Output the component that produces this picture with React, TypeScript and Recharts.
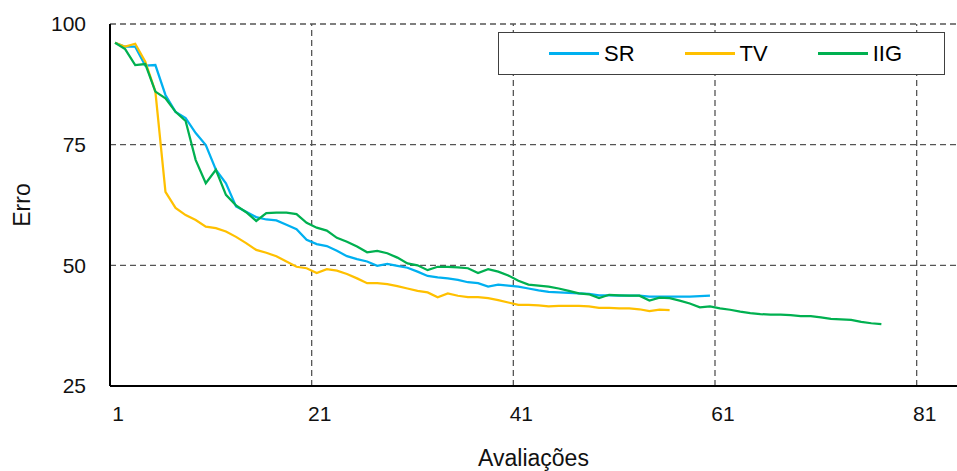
import React from "react";
import { CartesianGrid, Label, Legend, Line, LineChart, ReferenceLine, XAxis, YAxis } from "recharts";

// Erro por número de avaliações (uma categoria por avaliação)
const SR = [
  96.1, 95.3, 95.3, 91.4, 91.5, 85.3, 81.8, 80.5, 77.4, 74.9,
  69.8, 67.0, 62.2, 61.1, 60.0, 59.5, 59.3, 58.4, 57.5, 55.3,
  54.4, 54.0, 53.0, 51.9, 51.3, 50.8, 49.9, 50.3, 49.9, 49.5,
  48.7, 47.8, 47.5, 47.3, 47.0, 46.5, 46.3, 45.6, 46.0, 45.8,
  45.6, 45.2, 44.8, 44.5, 44.4, 44.3, 44.2, 44.1, 43.8, 43.8,
  43.7, 43.7, 43.7, 43.5, 43.5, 43.5, 43.5, 43.5, 43.6, 43.7,
];
const TV = [
  96.1, 95.3, 95.9, 92.2, 86.0, 65.2, 61.9, 60.4, 59.4, 58.0,
  57.7, 57.0, 55.9, 54.6, 53.2, 52.6, 51.9, 50.8, 49.7, 49.4,
  48.4, 49.2, 48.9, 48.2, 47.3, 46.3, 46.3, 46.1, 45.7, 45.2,
  44.7, 44.4, 43.4, 44.2, 43.7, 43.4, 43.4, 43.2, 42.8, 42.3,
  41.8, 41.8, 41.7, 41.5, 41.6, 41.6, 41.6, 41.5, 41.2, 41.2,
  41.1, 41.1, 40.9, 40.5, 40.8, 40.7,
];
const IIG = [
  96.1, 94.8, 91.5, 91.7, 86.0, 84.6, 81.8, 79.9, 71.8, 67.0,
  69.8, 64.6, 62.4, 61.0, 59.2, 60.8, 60.9, 60.9, 60.6, 58.8,
  57.8, 57.2, 55.7, 54.9, 53.9, 52.7, 53.0, 52.5, 51.6, 50.4,
  50.0, 49.0, 49.7, 49.7, 49.6, 49.4, 48.4, 49.2, 48.7, 47.9,
  46.8, 46.0, 45.8, 45.6, 45.2, 44.7, 44.2, 44.0, 43.2, 43.9,
  43.8, 43.7, 43.7, 42.7, 43.3, 43.2, 42.7, 42.1, 41.3, 41.5,
  41.1, 40.8, 40.4, 40.1, 39.9, 39.8, 39.8, 39.7, 39.5, 39.5,
  39.2, 38.9, 38.8, 38.7, 38.3, 38.0, 37.8,
];
const CATEGORY_COUNT = 84;
const X_TICKS = [1, 21, 41, 61, 81];
const Y_TICKS = [25, 50, 75, 100];

const SERIES = [
  { key: "sr", name: "SR", color: "#00B0F0" },
  { key: "tv", name: "TV", color: "#FFC000" },
  { key: "iig", name: "IIG", color: "#00B050" },
];

const rows = IIG.map((_, i) => ({ x: i + 1, sr: SR[i], tv: TV[i], iig: IIG[i] }));

const FONT = "'Liberation Sans', Arial, sans-serif";

function LegendBox() {
  return (
    <div style={{ boxSizing: "border-box", width: 447, height: 43, border: "1px solid #404040", background: "#fff", display: "flex", alignItems: "center", paddingLeft: 50, gap: 50, fontFamily: FONT, fontSize: 22, color: "#000" }}>
      {SERIES.map((s) => (
        <div key={s.key} style={{ display: "flex", alignItems: "center" }}>
          <span style={{ display: "inline-block", width: 50, height: 2.5, background: s.color, marginRight: 5 }} />
          <span>{s.name}</span>
        </div>
      ))}
    </div>
  );
}

export default function App() {
  return (
    <div style={{ position: "absolute", left: 0, top: 0, width: 957, height: 471, background: "#fff" }}>
      <LineChart width={957} height={471} data={rows} margin={{ top: 24, right: 0, bottom: 25, left: 0 }} style={{ fontFamily: FONT }}>
        <CartesianGrid vertical={false} stroke="#555" strokeDasharray="6 4" strokeWidth={1.3} />
        {X_TICKS.slice(1).map((t) => (
          <ReferenceLine key={t} x={t - 0.5} stroke="#555" strokeDasharray="6 4" strokeWidth={1.3} />
        ))}
        <XAxis dataKey="x" type="number" domain={[0.5, CATEGORY_COUNT + 0.5]} ticks={X_TICKS} allowDataOverflow height={60}
          axisLine={{ stroke: "#000", strokeWidth: 2 }} tickLine={false} tickSize={0} tickMargin={20}
          tick={{ fontSize: 21, fill: "#111", dx: 3 }}>
          <Label content={({ viewBox }: any) => (
            <text x={viewBox.x + viewBox.width / 2} y={viewBox.y + 80} textAnchor="middle" fontSize={23} fill="#111" fontFamily={FONT}>Avaliações</text>
          )} />
        </XAxis>
        <YAxis type="number" domain={[25, 100]} ticks={Y_TICKS} width={110}
          axisLine={{ stroke: "#000", strokeWidth: 2 }} tickLine={false} tickSize={0} tickMargin={24}
          tick={{ fontSize: 21, fill: "#111" }}>
          <Label content={({ viewBox }: any) => {
            const cy = viewBox.y + viewBox.height / 2;
            return <text x={30} y={cy} transform={`rotate(-90 30 ${cy})`} textAnchor="middle" fontSize={23} fill="#111" fontFamily={FONT}>Erro</text>;
          }} />
        </YAxis>
        <Legend layout="horizontal" verticalAlign="middle" align="center" content={() => <LegendBox />}
          wrapperStyle={{ position: "absolute", left: 498, top: 32, width: 447, height: 43 }} />
        {SERIES.map((s) => (
          <Line key={s.key} type="linear" dataKey={s.key} name={s.name} stroke={s.color} strokeWidth={2.25} dot={false} isAnimationActive={false} />
        ))}
      </LineChart>
    </div>
  );
}
